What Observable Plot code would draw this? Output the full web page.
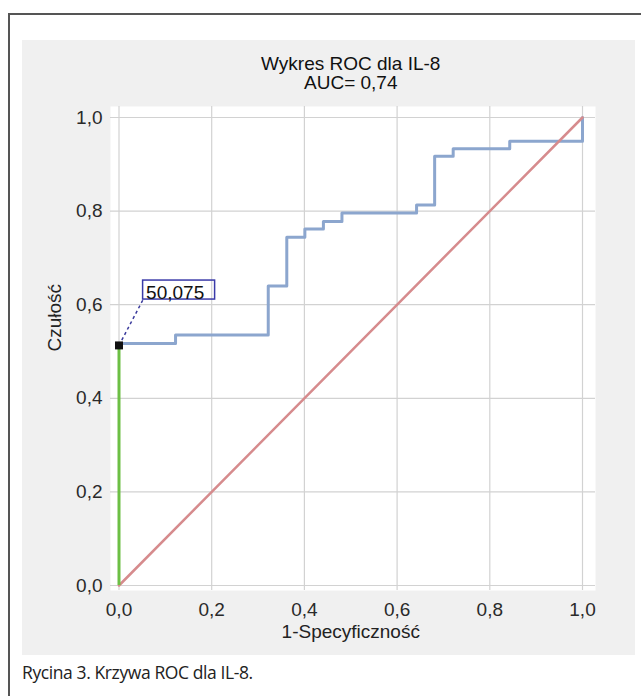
<!DOCTYPE html>
<html><head><meta charset="utf-8">
<script src="https://cdn.jsdelivr.net/npm/d3@7"></script>
<script src="https://cdn.jsdelivr.net/npm/@observablehq/plot@0.6"></script>
<style>
body{margin:0;background:#fff;width:641px;height:696px;overflow:hidden;position:relative;font-family:"Liberation Sans",Arial,sans-serif}
#frame{position:absolute;left:8px;top:13px;width:700px;height:700px;border-top:2px solid #555;border-left:2px solid #555}
#chart{position:absolute;left:22px;top:40px}
#caption{position:absolute;left:22px;top:660px;font-family:"Open Sans",sans-serif;font-size:17.5px;color:#222;letter-spacing:-0.4px}
</style></head><body>
<div id="frame"></div><div id="chart"></div><div id="caption"></div>
<script>
const titleLines = ["Wykres ROC dla IL-8", "AUC= 0,74"];
const xLabel = "1-Specyficzność";
const yLabel = "Czułość";
const captionText = "Rycina 3. Krzywa ROC dla IL-8.";
const tickValues = [0, 0.2, 0.4, 0.6, 0.8, 1.0];
// ROC curve vertices (1-specificity, sensitivity)
const rocFpr = [0, 0.122, 0.322, 0.362, 0.401, 0.441, 0.481, 0.642, 0.681, 0.721, 0.843, 1.0];
const rocTpr = [0.517, 0.535, 0.640, 0.744, 0.762, 0.778, 0.796, 0.813, 0.917, 0.933, 0.949, 1.0];
// reference diagonal
const diagFpr = [0, 1];
const diagTpr = [0, 1];
// optimal cut-off point and its annotation anchor
const cutoffFpr = [0];
const cutoffTpr = [0.513];
const cutoffLabel = ["50,075"];
const labelFpr = [0.052];
const labelTpr = [0.611];

const roc = rocFpr.map((x, i) => ({x, y: rocTpr[i]}));
const diag = diagFpr.map((x, i) => ({x, y: diagTpr[i]}));
const cutoff = cutoffFpr.map((x, i) => ({x, y: cutoffTpr[i], label: cutoffLabel[i], lx: labelFpr[i], ly: labelTpr[i]}));
const fmt = d => d.toFixed(1).replace(".", ",");

document.getElementById("caption").textContent = captionText;

const chart = Plot.plot({
  width: 613,
  height: 615,
  marginLeft: 96.5,
  marginRight: 53,
  marginTop: 77,
  marginBottom: 70,
  style: {background: "#f0f0f0", fontFamily: "'Liberation Sans', Arial, sans-serif", fontSize: "19px", color: "#2a2a2a"},
  x: {domain: [0, 1]},
  y: {domain: [0, 1]},
  marks: [
    Plot.frame({fill: "white", stroke: null, insetLeft: -8.5, insetRight: -13, insetTop: -11, insetBottom: -5}),
    Plot.gridX(tickValues, {stroke: "#d2d2d2", strokeOpacity: 1, strokeWidth: 1.2, insetTop: -11, insetBottom: -5}),
    Plot.gridY(tickValues, {stroke: "#d2d2d2", strokeOpacity: 1, strokeWidth: 1.2, insetLeft: -8.5, insetRight: -13}),
    Plot.axisX(tickValues, {tickSize: 0, tickPadding: 17, tickFormat: fmt, label: null, fontSize: 19}),
    Plot.axisY(tickValues, {tickSize: 0, tickPadding: 16.5, tickFormat: fmt, label: null, fontSize: 19}),
    Plot.line(roc, {x: "x", y: "y", curve: "step-after", stroke: "#8ca6ce", strokeWidth: 3}),
    Plot.line(diag, {x: "x", y: "y", stroke: "#d68b8d", strokeWidth: 2.5}),
    Plot.ruleX(cutoff, {x: "x", y1: 0, y2: "y", stroke: "#6cbf45", strokeWidth: 3}),
    Plot.link(cutoff, {x1: "x", y1: "y", x2: "lx", y2: "ly", stroke: "#3a3a9c", strokeWidth: 1.5, strokeDasharray: "3,3"}),
    Plot.dot(cutoff, {x: "x", y: "y", symbol: "square", r: 4.5, fill: "#111", stroke: null}),
    Plot.rect(cutoff, {x1: "lx", x2: "lx", y1: "ly", y2: "ly", insetLeft: 0, insetRight: -72, insetTop: -19, insetBottom: 0, fill: "none", stroke: "#3a3aa8", strokeWidth: 1.5}),
    Plot.text(cutoff, {x: "lx", y: "ly", text: "label", textAnchor: "start", lineAnchor: "bottom", dx: 3, dy: -1, fontSize: 19, fill: "#111"}),
    Plot.text([titleLines.join("\n")], {frameAnchor: "top", lineAnchor: "top", dy: -61, lineHeight: 1.0, fontSize: 19, fill: "#111"}),
    Plot.text([xLabel], {frameAnchor: "bottom", lineAnchor: "middle", dy: 46, fontSize: 19, fill: "#222"}),
    Plot.text([yLabel], {frameAnchor: "left", rotate: -90, lineAnchor: "middle", dx: -64, fontSize: 19, fill: "#222"})
  ]
});
document.getElementById("chart").appendChild(chart);
</script>
</body></html>
